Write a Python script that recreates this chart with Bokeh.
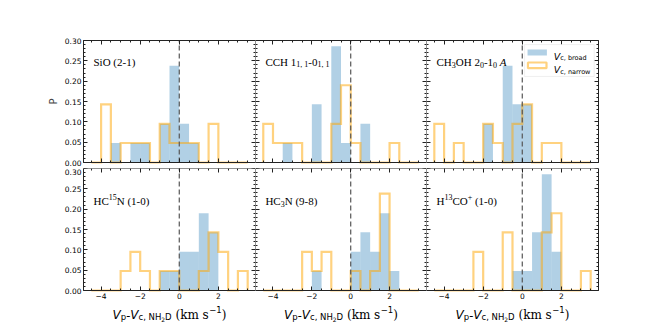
import numpy as np
from bokeh.plotting import figure
from bokeh.layouts import gridplot
from bokeh.models import (Range1d, LinearAxis, FixedTicker, PrintfTickFormatter,
                          CustomJSTickFormatter, Label, BoxAnnotation)
from bokeh.embed import file_html
from bokeh.resources import INLINE

# ---------------- data (P per 0.5 km/s bin) ----------------
bin_edges = [-4.5, -4.0, -3.5, -3.0, -2.5, -2.0, -1.5, -1.0, -0.5,
             0.0, 0.5, 1.0, 1.5, 2.0, 2.5, 3.0, 3.5]

sio_broad    = [0, 0, .048, 0, .048, .048, 0, .095, .238, .095, .048, 0, 0, 0, 0, 0]
sio_narrow   = [0, .143, 0, .048, .048, .048, 0, .095, .048, .048, .048, 0, .095, 0, 0, 0]
cch_broad    = [0, 0, .048, 0, 0, .143, 0, .286, .048, 0, .095, 0, 0, 0, 0, 0]
cch_narrow   = [.095, .048, .048, .048, 0, 0, 0, .095, .190, .048, 0, 0, 0, .048, 0, 0]
ch3oh_broad  = [0, 0, 0, 0, 0, .095, 0, .238, .143, .143, 0, 0, 0, 0, 0, 0]
ch3oh_narrow = [.095, 0, .048, 0, 0, .095, .048, 0, .095, .143, 0, .048, .048, 0, 0, 0]
hc15n_broad  = [0, 0, 0, 0, 0, 0, 0, .048, .048, .095, .095, .190, .143, 0, 0, 0]
hc15n_narrow = [0, 0, 0, .048, .095, .048, 0, .048, .048, 0, 0, .048, .143, .095, 0, .048]
hc3n_broad   = [0, 0, 0, 0, 0, .048, 0, 0, 0, .095, .143, .095, .190, .048, 0, 0]
hc3n_narrow  = [0, 0, 0, 0, .095, .048, .095, 0, 0, .048, 0, .048, .238, 0, 0, 0]
h13co_broad  = [0, 0, 0, 0, 0, 0, 0, 0, .048, .048, .143, .286, .095, 0, 0, 0]
h13co_narrow = [0, 0, 0, 0, .095, 0, 0, .143, 0, 0, 0, .143, .190, 0, 0, .048]

x_ticks = [-4, -2, 0, 2]
y_ticks = [0.0, 0.05, 0.10, 0.15, 0.20, 0.25, 0.30]
X_LIM = (-4.9, 3.9)
Y_LIM = (0.0, 0.3)
v_ref = 0.0   # reference velocity (dashed line)

BLUE = "#1f77b4"
ORANGE = "#FFA500"

# ---------------- text helpers ----------------
TIMES = {'S': .556, 'i': .278, 'O': .722, ' ': .25, '(': .333, ')': .333, '-': .333,
         ',': .25, 'C': .667, 'H': .722, 'N': .722, 'A': .722, '+': .564}
for d in "0123456789":
    TIMES[d] = .5
TIMES_I = dict(TIMES, A=.611)
DVS = {'V': .684, 'p': .635, 'c': .55, ',': .318, ' ': .318, 'N': .748, 'H': .752,
       '2': .636, 'D': .77, 'b': .635, 'r': .411, 'o': .612, 'a': .613, 'd': .635,
       'n': .634, 'w': .818, '\u2212': .838, '1': .636}
DVSERIF = {'(': .39, ')': .39, 'k': .64, 'm': .948, ' ': .318, 's': .514, '-': .338}

SERIF = "Liberation Serif"


def seg_width(t, size, tbl):
    return sum(tbl.get(ch, 0.6) for ch in t) * size


def rich(p, x, y, segs, align="left", y_off=0):
    widths = [seg_width(t, size, tbl) for (t, font, size, style, dy, tbl) in segs]
    total = sum(widths)
    off = -total / 2 if align == "center" else 0
    for (t, font, size, style, dy, tbl), w in zip(segs, widths):
        stripped = t.lstrip()
        lead = seg_width(t[:len(t) - len(stripped)], size, tbl)
        if stripped:
            p.add_layout(Label(x=x, y=y, x_offset=off + lead, y_offset=y_off + dy,
                               text=stripped, text_font=font,
                               text_font_size=f"{size}px", text_font_style=style,
                               text_baseline="alphabetic", text_align="left",
                               text_color="black", level="overlay"))
        off += w


def T(t):
    return (t, SERIF, 11, "normal", 0, TIMES)


def TSUB(t):
    return (t, SERIF, 8, "normal", -2.5, TIMES)


def TSUP(t):
    return (t, SERIF, 8, "normal", 4.5, TIMES)


titles = [
    [T("SiO (2-1)")],
    [T("CCH 1"), TSUB("1, 1"), T("-0"), TSUB("1, 1")],
    [T("CH"), TSUB("3"), T("OH 2"), TSUB("0"), T("-1"), TSUB("0"), T(" "),
     ("A", SERIF, 11, "italic", 0, TIMES_I)],
    [T("HC"), TSUP("15"), T("N (1-0)")],
    [T("HC"), TSUB("3"), T("N (9-8)")],
    [T("H"), TSUP("13"), T("CO"), TSUP("+"), T(" (1-0)")],
]
broads = [sio_broad, cch_broad, ch3oh_broad, hc15n_broad, hc3n_broad, h13co_broad]
narrows = [sio_narrow, cch_narrow, ch3oh_narrow, hc15n_narrow, hc3n_narrow, h13co_narrow]

# ---------------- layout (pixels) ----------------
frame_w = [172, 171, 172]
frame_h = 122
pad_left = [83, 0, 0]
pad_right = [0, 0, 59]
pad_top = [40, 0]
pad_bottom = [6, 35]

xminor = list(np.round(np.arange(-4.5, 3.51, 0.5), 2))
yminor = list(np.round(np.arange(0, 0.3001, 0.01), 3))

x_fmt_code = "return tick < 0 ? '\u2212' + (-tick) : '' + tick;"


def make_axis(ticks, minor, loc, bounds, show_labels, fmt):
    ax = LinearAxis(fixed_location=loc, bounds=bounds)
    ax.ticker = FixedTicker(ticks=ticks, minor_ticks=minor)
    ax.formatter = fmt
    ax.axis_line_color = "#222222"
    ax.axis_line_width = 1
    ax.major_tick_in = 4
    ax.major_tick_out = 0
    ax.minor_tick_in = 2
    ax.minor_tick_out = 0
    ax.major_tick_line_color = "#222222"
    ax.minor_tick_line_color = "#222222"
    ax.major_label_standoff = 2
    ax.major_label_text_font = "DejaVu Sans"
    ax.major_label_text_font_size = "7.5px"
    ax.major_label_text_color = "black" if show_labels else None
    return ax


figs = []
for i in range(6):
    r, c = divmod(i, 3)
    W = pad_left[c] + frame_w[c] + pad_right[c]
    H = pad_top[r] + frame_h + pad_bottom[r]
    sx = frame_w[c] / (X_LIM[1] - X_LIM[0])
    sy = frame_h / (Y_LIM[1] - Y_LIM[0])
    xr = Range1d(X_LIM[0] - pad_left[c] / sx, X_LIM[1] + pad_right[c] / sx)
    yr = Range1d(Y_LIM[0] - pad_bottom[r] / sy, Y_LIM[1] + pad_top[r] / sy)
    p = figure(width=W, height=H, x_range=xr, y_range=yr,
               output_backend="svg", toolbar_location=None, title=None,
               x_axis_location=None, y_axis_location=None,
               min_border=0, background_fill_color="white",
               border_fill_color="white")
    p.outline_line_color = None
    p.xgrid.visible = False
    p.ygrid.visible = False

    bottom_ax = make_axis(x_ticks, xminor, Y_LIM[0], X_LIM, r == 1,
                          CustomJSTickFormatter(code=x_fmt_code))
    top_ax = make_axis(x_ticks, xminor, Y_LIM[1], X_LIM, False,
                       CustomJSTickFormatter(code=x_fmt_code))
    left_ax = make_axis(y_ticks, yminor, X_LIM[0], Y_LIM, c == 0,
                        PrintfTickFormatter(format="%.2f"))
    right_ax = make_axis(y_ticks, yminor, X_LIM[1], Y_LIM, False,
                         PrintfTickFormatter(format="%.2f"))
    if i == 0:
        left_ax.axis_label = "P"
        left_ax.axis_label_text_font = "DejaVu Sans"
        left_ax.axis_label_text_font_size = "10px"
        left_ax.axis_label_text_font_style = "normal"
        left_ax.axis_label_standoff = 3
    p.add_layout(bottom_ax, "below")
    p.add_layout(top_ax, "above")
    p.add_layout(left_ax, "left")
    p.add_layout(right_ax, "right")

    edges = np.array(bin_edges)
    b = np.array(broads[i])
    n = np.array(narrows[i])
    p.quad(left=edges[:-1], right=edges[1:], bottom=0, top=b,
           fill_color=BLUE, fill_alpha=0.35, line_color=None)
    xs = np.repeat(edges, 2)
    ys = np.concatenate([[0], np.repeat(n, 2), [0]])
    p.line(xs, ys, line_color=ORANGE, line_alpha=0.5, line_width=2.2,
           line_join="miter")
    p.segment(x0=[v_ref], y0=[Y_LIM[0]], x1=[v_ref], y1=[Y_LIM[1]],
              line_color="#555555", line_dash="5 3", line_width=1.2)

    ty = 0.246 if r == 0 else 0.219
    rich(p, -4.39, ty, titles[i])

    if r == 1:
        xl = [("V", "DejaVu Sans", 12, "italic", 0, DVS),
              ("p", "DejaVu Sans", 8.5, "normal", -2.5, DVS),
              ("-", "DejaVu Serif", 12, "normal", 0, DVSERIF),
              ("V", "DejaVu Sans", 12, "italic", 0, DVS),
              ("c, NH", "DejaVu Sans", 8.5, "normal", -2.5, DVS),
              ("2", "DejaVu Sans", 6, "normal", -4.5, DVS),
              ("D", "DejaVu Sans", 8.5, "normal", -2.5, DVS),
              (" (km s", "DejaVu Serif", 12, "normal", 0, DVSERIF),
              ("\u22121", "DejaVu Sans", 8.5, "normal", 5, DVS),
              (")", "DejaVu Serif", 12, "normal", 0, DVSERIF)]
        rich(p, -0.5, 0, xl, align="center", y_off=-24)

    if i == 2:
        # legend frame and handles
        p.add_layout(BoxAnnotation(left=0.12, right=3.68, bottom=0.2115, top=0.290,
                                   fill_color="white", fill_alpha=0.85,
                                   line_color="#cccccc", line_width=1,
                                   level="overlay"))
        p.add_layout(BoxAnnotation(left=0.27, right=1.26, bottom=0.2631, top=0.2779,
                                   fill_color=BLUE, fill_alpha=0.35,
                                   line_color=None, level="overlay"))
        p.add_layout(BoxAnnotation(left=0.29, right=1.24, bottom=0.2320, top=0.2459,
                                   fill_color=None, fill_alpha=0,
                                   line_color=ORANGE, line_alpha=0.5, line_width=2.2,
                                   level="overlay"))
        rich(p, 1.61, 0.2607, [("V", "DejaVu Sans", 9.5, "italic", 0, DVS),
                               ("c, broad", "DejaVu Sans", 6.5, "normal", -2, DVS)])
        rich(p, 1.61, 0.228, [("V", "DejaVu Sans", 9.5, "italic", 0, DVS),
                              ("c, narrow", "DejaVu Sans", 6.5, "normal", -2, DVS)])
    figs.append(p)

grid = gridplot([figs[:3], figs[3:]], toolbar_location=None)
open("out.html", "w").write(file_html(grid, INLINE))
